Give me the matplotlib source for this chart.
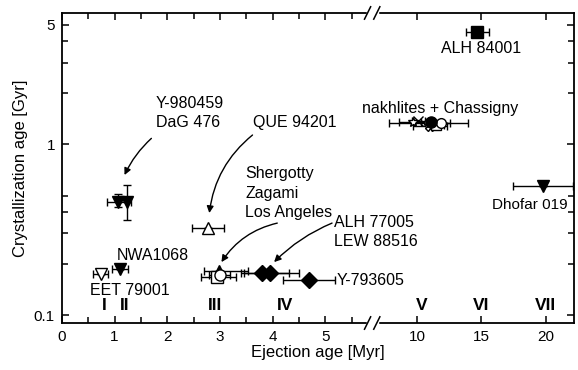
import numpy as np
import matplotlib
matplotlib.use('Agg')
import matplotlib.pyplot as plt
from matplotlib.ticker import FixedLocator, FixedFormatter, NullFormatter

plt.rcParams['font.family'] = ['Liberation Sans', 'DejaVu Sans']

# data: ejection age [Myr], crystallization age [Gyr]
# (name, x, y, xerr_lo, xerr_hi, yerr_lo, yerr_hi, marker, filled)
meteorites = [
    ('EET 79001',   0.74, 0.173, 0.15, 0.13, 0, 0, 'v', False),
    ('NWA1068',     1.10, 0.186, 0.15, 0.16, 0, 0, 'v', True),
    ('Y-980459',    1.06, 0.46, 0.20, 0.26, 0.032, 0.05, 'v', True),
    ('DaG 476',     1.23, 0.46, 0, 0, 0.10, 0.115, 'v', True),
    ('QUE 94201',   2.78, 0.325, 0.30, 0.30, 0, 0, '^', False),
    ('Shergotty',   2.98, 0.182, 0.28, 0.55, 0, 0, '^', True),
    ('Zagami',      2.95, 0.167, 0.30, 0.35, 0, 0, 's', False),
    ('Los Angeles', 3.00, 0.172, 0.20, 0.20, 0, 0, 'o', False),
    ('ALH 77005',   3.80, 0.177, 0.40, 0.52, 0, 0, 'D', True),
    ('LEW 88516',   3.95, 0.177, 0.50, 0.55, 0, 0, 'D', True),
    ('Y-793605',    4.70, 0.160, 0.50, 0.48, 0, 0, 'D', True),
    ('ALH 84001',  14.70, 4.50, 0.90, 0.90, 0, 0, 's', True),
    ('NWA 817',     9.70, 1.35, 1.10, 1.10, 0, 0, '*', False),
    ('Gov. Val.',  10.10, 1.37, 0.50, 0.50, 0, 0, 'x', False),
    ('Nakhla',     10.90, 1.32, 3.10, 3.10, 0, 0, 'o', False),
    ('Y-000593',   11.00, 1.28, 1.30, 1.30, 0, 0, 'X', False),
    ('MIL 03346',  11.50, 1.30, 0.60, 0.60, 0, 0, 's', False),
    ('Lafayette',  11.90, 1.33, 0.70, 0.70, 0, 0, 'o', False),
    ('Chassigny',  11.10, 1.34, 0.80, 0.80, 0, 0, 'o', True),
    ('Dhofar 019', 19.80, 0.57, 2.30, 2.30, 0, 0, 'v', True),
]

numerals = ['I', 'II', 'III', 'IV', 'V', 'VI', 'VII']
numeral_x = [0.81, 1.19, 2.90, 4.24, 10.4, 15.0, 19.95]

# broken x axis: 0..XB as is, then jump to XR and compress by R
XB, XR, R = 5.89, 6.51, 0.2443

def fwd(x):
    x = np.asarray(x, float)
    return np.where(x <= XB, x, np.where(x < XR, XB, XB + (x - XR) * R))

def inv(y):
    y = np.asarray(y, float)
    return np.where(y <= XB, y, XR + (y - XB) / R)

fig = plt.figure(figsize=(5.78, 3.70), dpi=100)
ax = fig.add_axes([0.107, 0.127, 0.886, 0.838])
ax.set_xscale('function', functions=(fwd, inv))
ax.set_yscale('log')
ax.set_xlim(0, 22.2)
ax.set_ylim(0.0898, 5.85)

for name, x, y, xl, xh, yl, yh, m, filled in meteorites:
    ms = 9 if m in ('v', '^') else 8
    if m in ('*', 'x', 'X') or (x > 9 and x < 13 and not filled):
        ms = 7
    ax.errorbar([x], [y], xerr=[[xl], [xh]], yerr=[[yl], [yh]], fmt=m, ms=ms,
                mfc='k' if filled else 'white', mec='k', mew=1, ecolor='k',
                elinewidth=1, capsize=3, capthick=1, zorder=3)

fs = 11.5
arrow = dict(arrowstyle='-|>', color='k', lw=1, mutation_scale=10, shrinkA=0, shrinkB=0)
ax.text(1.78, 1.52, 'Y-980459\nDaG 476', fontsize=fs, va='center', ha='left', linespacing=1.3)
ax.annotate('', xy=(1.19, 0.659), xytext=(1.70, 1.08),
            arrowprops=dict(arrow, connectionstyle='arc3,rad=0.1'))
ax.text(3.62, 1.33, 'QUE 94201', fontsize=fs, va='center', ha='left')
ax.annotate('', xy=(2.80, 0.395), xytext=(3.62, 1.13),
            arrowprops=dict(arrow, connectionstyle='arc3,rad=0.2'))
ax.text(3.48, 0.517, 'Shergotty\nZagami\nLos Angeles', fontsize=fs, va='center', ha='left',
        linespacing=1.35)
ax.annotate('', xy=(3.03, 0.204), xytext=(4.09, 0.345),
            arrowprops=dict(arrow, connectionstyle='arc3,rad=0.2'))
ax.text(5.17, 0.306, 'ALH 77005\nLEW 88516', fontsize=fs, va='center', ha='left', linespacing=1.3)
ax.annotate('', xy=(4.03, 0.204), xytext=(5.13, 0.345),
            arrowprops=dict(arrow, connectionstyle='arc3,rad=0.1'))
ax.text(5.21, 0.160, 'Y-793605', fontsize=fs, va='center', ha='left')
ax.text(1.04, 0.224, 'NWA1068', fontsize=fs, va='center', ha='left')
ax.text(0.53, 0.140, 'EET 79001', fontsize=fs, va='center', ha='left')
ax.text(15.0, 3.64, 'ALH 84001', fontsize=fs, va='center', ha='center')
ax.text(11.78, 1.62, 'nakhlites + Chassigny', fontsize=fs, va='center', ha='center')
ax.text(15.85, 0.44, 'Dhofar 019', fontsize=11, va='center', ha='left')

for lab, xn in zip(numerals, numeral_x):
    ax.text(xn, 0.1144, lab, fontsize=12.5, fontweight='bold', va='center', ha='center')

ax.xaxis.set_major_locator(FixedLocator([0, 1, 2, 3, 4, 5, 10, 15, 20]))
ax.xaxis.set_major_formatter(FixedFormatter(['0', '1', '2', '3', '4', '5', '10', '15', '20']))
ax.xaxis.set_minor_locator(FixedLocator([0.5, 1.5, 2.5, 3.5, 4.5, 5.5]))
ax.yaxis.set_major_locator(FixedLocator([0.1, 1, 5]))
ax.yaxis.set_major_formatter(FixedFormatter(['0.1', '1', '5']))
ax.yaxis.set_minor_locator(FixedLocator([0.2, 0.3, 0.4, 0.5, 2, 3, 4]))
ax.yaxis.set_minor_formatter(NullFormatter())
ax.tick_params(which='both', direction='in', top=True, right=True, labelsize=11, width=1.1)
ax.tick_params(which='major', length=5, pad=5)
ax.tick_params(which='minor', length=4)
for s in ax.spines.values():
    s.set_linewidth(1.3)

ax.set_xlabel('Ejection age [Myr]', fontsize=12, labelpad=1)
ax.set_ylabel('Crystallization age [Gyr]', fontsize=12, labelpad=4)

# axis break marks
bx = 0.606
for yb in (0, 1):
    ax.plot([bx - 0.009, bx + 0.009], [yb, yb], transform=ax.transAxes, color='white',
            lw=2.5, clip_on=False, zorder=5)
    for dx in (-0.009, 0.009):
        ax.plot([bx + dx - 0.006, bx + dx + 0.006], [yb - 0.02, yb + 0.02],
                transform=ax.transAxes, color='k', lw=1.1, clip_on=False, zorder=6)

fig.savefig('out.png', dpi=100)
